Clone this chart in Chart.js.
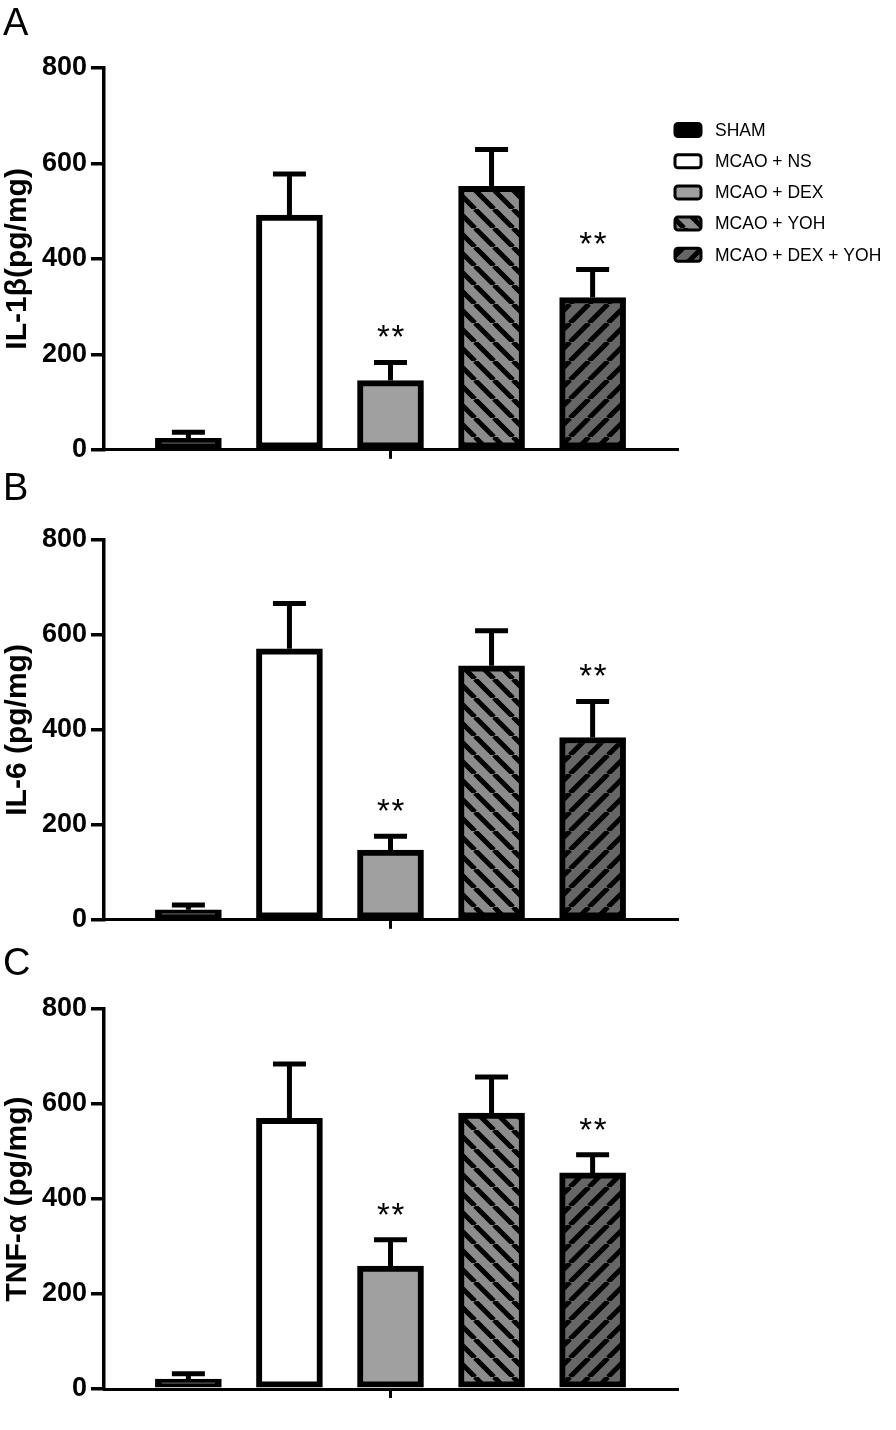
<!DOCTYPE html>
<html>
<head>
<meta charset="utf-8">
<script src="https://cdn.jsdelivr.net/npm/chart.js@4.4.0/dist/chart.umd.min.js"></script>
<style>
  body { margin: 0; background: #fff; }
  #wrap { position: relative; width: 896px; height: 1430px; }
  canvas { position: absolute; left: 0; }
</style>
</head>
<body>
<div id="wrap">
  <canvas id="cA" width="896" height="470" style="top:0px"></canvas>
  <canvas id="cB" width="896" height="470" style="top:470px"></canvas>
  <canvas id="cC" width="896" height="490" style="top:940px"></canvas>
</div>
<script>
// groups and values
var groups = ['SHAM', 'MCAO + NS', 'MCAO + DEX', 'MCAO + YOH', 'MCAO + DEX + YOH'];
var il1b = [24, 492, 145, 552, 319];
var il1bErr = [13, 86, 38, 77, 59];
var il6 = [21, 571, 147, 535, 384];
var il6Err = [10, 95, 29, 74, 76];
var tnf = [21, 570, 259, 581, 455];
var tnfErr = [11, 114, 55, 76, 38];
var sigMarks = ['', '', '**', '', '**'];
var yTicks = [0, 200, 400, 600, 800];

Chart.defaults.font.family = '"Liberation Sans", Arial, sans-serif';
Chart.defaults.color = '#000';

function hatch(bg, dir) {
  var s = 19, c = document.createElement('canvas');
  c.width = s; c.height = s;
  var g = c.getContext('2d');
  g.fillStyle = bg;
  g.fillRect(0, 0, s, s);
  g.strokeStyle = '#000';
  g.lineWidth = 5;
  g.beginPath();
  for (var k = -s; k <= s; k += s) {
    if (dir == 'back') { g.moveTo(k, 0); g.lineTo(k + s, s); }
    else { g.moveTo(k, s); g.lineTo(k + s, 0); }
  }
  g.stroke();
  return g.createPattern(c, 'repeat');
}

var fills = ['#000000', '#ffffff', '#a0a0a0', hatch('#8c8c8c', 'back'), hatch('#666666', 'fwd')];

// error bars + significance stars
var errorBars = {
  id: 'errorBars',
  afterDatasetsDraw: function(chart, args, opts) {
    var ctx = chart.ctx, y = chart.scales.y;
    var meta = chart.getDatasetMeta(0);
    ctx.save();
    ctx.strokeStyle = '#000';
    ctx.lineWidth = 5;
    meta.data.forEach(function(bar, i) {
      var top = y.getPixelForValue(opts.values[i]);
      var end = y.getPixelForValue(opts.values[i] + opts.errors[i]);
      ctx.beginPath();
      ctx.moveTo(bar.x, top);
      ctx.lineTo(bar.x, end);
      ctx.moveTo(bar.x - 16.5, end);
      ctx.lineTo(bar.x + 16.5, end);
      ctx.stroke();
      if (opts.sig[i]) {
        ctx.fillStyle = '#000';
        ctx.font = '33px "Liberation Sans", Arial, sans-serif';
        ctx.textAlign = 'center';
        ctx.textBaseline = 'alphabetic';
        ctx.fillText('*', bar.x - 7, end - 14);
        ctx.fillText('*', bar.x + 7.5, end - 14);
      }
    });
    ctx.restore();
  }
};

// panel letter and legend
var decor = {
  id: 'decor',
  afterDraw: function(chart, args, opts) {
    var ctx = chart.ctx;
    ctx.save();
    ctx.fillStyle = '#000';
    ctx.font = '38px "Liberation Sans", Arial, sans-serif';
    ctx.textAlign = 'left';
    ctx.textBaseline = 'alphabetic';
    ctx.fillText(opts.letter, 3, opts.letterY);
    if (opts.legend) {
      ctx.font = '17.5px "Liberation Sans", Arial, sans-serif';
      ctx.textBaseline = 'middle';
      groups.forEach(function(name, i) {
        var cy = 130 + 31.2 * i;
        ctx.beginPath();
        ctx.roundRect(675, cy - 6.5, 26, 13, 3);
        ctx.fillStyle = fills[i];
        ctx.fill();
        ctx.lineWidth = 3;
        ctx.strokeStyle = '#000';
        ctx.stroke();
        ctx.fillStyle = '#000';
        ctx.fillText(name, 715, cy + 1);
      });
    }
    ctx.restore();
  }
};

function makePanel(id, values, errors, title, letter, letterY, areaTop, areaBottom, legend) {
  var canvas = document.getElementById(id);
  var H = canvas.height, xH = 19;
  return new Chart(canvas, {
    type: 'bar',
    data: {
      datasets: [{
        data: values.map(function(v, i) { return { x: i, y: v }; }),
        backgroundColor: fills,
        borderColor: '#000',
        borderWidth: 6,
        borderSkipped: false,
        barThickness: 66
      }]
    },
    options: {
      responsive: false,
      animation: false,
      devicePixelRatio: 1,
      layout: { padding: { top: areaTop, left: 0, right: 219, bottom: H - areaBottom - xH } },
      plugins: {
        legend: { display: false },
        tooltip: { enabled: false },
        errorBars: { values: values, errors: errors, sig: sigMarks },
        decor: { letter: letter, letterY: letterY, legend: legend }
      },
      scales: {
        x: {
          type: 'linear',
          offset: false,
          min: -0.835,
          max: 4.835,
          afterBuildTicks: function(scale) { scale.ticks = [{ value: 2 }]; },
          afterFit: function(scale) { scale.height = xH; },
          ticks: { display: false },
          grid: { offset: false, drawOnChartArea: false, drawTicks: true, tickLength: 9, lineWidth: 3, color: '#000' },
          border: { display: true, width: 3, color: '#000' }
        },
        y: {
          min: 0,
          max: 800,
          afterBuildTicks: function(scale) { scale.ticks = yTicks.map(function(v) { return { value: v }; }); },
          afterFit: function(scale) { scale.width = 104; },
          ticks: { font: { size: 27, weight: 'bold' }, color: '#000', padding: 4 },
          grid: { drawOnChartArea: false, drawTicks: true, tickLength: 13, lineWidth: 3.5, color: '#000' },
          border: { display: true, width: 3.5, color: '#000' },
          title: { display: true, text: title, font: { size: 30, weight: 'bold' }, color: '#000', padding: { top: 0, bottom: 0 } }
        }
      }
    },
    plugins: [errorBars, decor]
  });
}

makePanel('cA', il1b, il1bErr, 'IL-1β(pg/mg)', 'A', 35, 68, 451, true);
makePanel('cB', il6, il6Err, 'IL-6 (pg/mg)', 'B', 30, 70, 451, false);
makePanel('cC', tnf, tnfErr, 'TNF-α (pg/mg)', 'C', 35, 69, 449, false);
</script>
</body>
</html>
